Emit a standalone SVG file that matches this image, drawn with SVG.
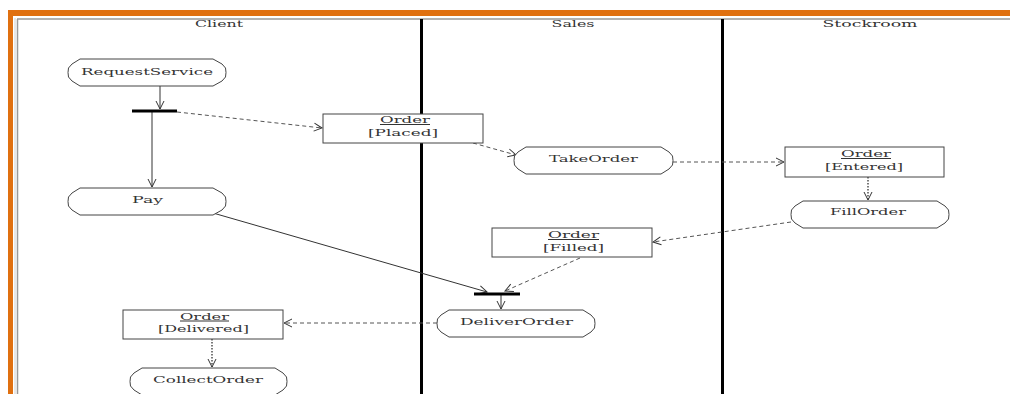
<svg xmlns="http://www.w3.org/2000/svg" width="1010" height="394" viewBox="0 0 1010 394">
<style>
  text { font-family: "DejaVu Serif", "Liberation Serif", serif; font-size: 10px; fill: #333; text-anchor: middle; }
  .act { fill: #ffffff; stroke: #444; stroke-width: 1; }
  .obj { fill: #ffffff; stroke: #444; stroke-width: 1; }
  .bar { stroke: #000; stroke-width: 3; }
  .lane { stroke: #000; stroke-width: 3; }
  .solid { fill: none; stroke: #333; stroke-width: 1; marker-end: url(#arr); }
  .dash { fill: none; stroke: #555; stroke-width: 1; stroke-dasharray: 4 3; marker-end: url(#arr); }
  .dot { fill: none; stroke: #333; stroke-width: 1.3; stroke-dasharray: 1.5 1.5; marker-end: url(#arr); }
  .ul { stroke: #333; stroke-width: 1; }
</style>
<defs>
  <marker id="arr" markerUnits="userSpaceOnUse" markerWidth="12" markerHeight="12" viewBox="-10 -6 12 12" refX="0" refY="0" orient="auto">
    <path d="M-8,-4 L0,0 L-8,4" fill="none" stroke="#333" stroke-width="1"/>
  </marker>
</defs>
<rect x="0" y="0" width="1010" height="394" fill="#ffffff"/>
<g id="frame">
  <rect x="8" y="10" width="1002" height="6" fill="#e07010"/>
  <rect x="8" y="10" width="5" height="384" fill="#e07010"/>
  <line x1="15" y1="18" x2="15" y2="394" stroke="#d0d0d0" stroke-width="1"/>
  <line x1="17.5" y1="19" x2="17.5" y2="394" stroke="#999" stroke-width="1.5"/>
  <line x1="17" y1="19" x2="1010" y2="19" stroke="#999" stroke-width="1.5"/>
</g>
<g id="lanes">
  <line class="lane" x1="421.5" y1="19" x2="421.5" y2="394"/>
  <line class="lane" x1="722.5" y1="19" x2="722.5" y2="394"/>
  <text x="219" y="27" textLength="48" lengthAdjust="spacingAndGlyphs">Client</text>
  <text x="573" y="27" textLength="43" lengthAdjust="spacingAndGlyphs">Sales</text>
  <text x="870" y="27" textLength="95" lengthAdjust="spacingAndGlyphs">Stockroom</text>
</g>
<g id="connectors">
  <path class="solid" d="M160,86 L160,109"/>
  <path class="solid" d="M152,112 L152,187"/>
  <path class="dash" d="M177,112 L322,128"/>
  <path class="dash" d="M473,143 L516,155"/>
  <path class="dash" d="M673,162 L784,162"/>
  <path class="dot" d="M868,177 L868,200"/>
  <path class="dash" d="M791,222 L653,242"/>
  <path class="dash" d="M580,258 L505,291"/>
  <path class="solid" d="M213,213 L487,292"/>
  <path class="solid" d="M501,295 L501,309"/>
  <path class="dash" d="M437,323 L284,323"/>
  <path class="dot" d="M212,339 L212,367"/>
</g>
<g id="RequestService">
  <polygon class="act" points="80,59 213,59 222,64 225.5,68 226,72.5 225.5,77 222,81 213,86 80,86 72,81 68.5,77 68,72.5 68.5,68 72,64"/>
  <text x="147" y="75" textLength="132" lengthAdjust="spacingAndGlyphs">RequestService</text>
</g>
<g id="fork">
  <line class="bar" x1="132" y1="111" x2="177" y2="111"/>
</g>
<g id="Pay">
  <polygon class="act" points="80,188 213,188 222,193 225.5,197 226,201.5 225.5,206 222,210 213,215 80,215 72,210 68.5,206 68,201.5 68.5,197 72,193"/>
  <text x="147.5" y="203" textLength="31" lengthAdjust="spacingAndGlyphs">Pay</text>
</g>
<g id="OrderPlaced">
  <rect class="obj" x="323" y="114" width="160" height="29"/>
  <text x="405" y="123" textLength="50" lengthAdjust="spacingAndGlyphs">Order</text>
  <line class="ul" x1="380" y1="124.5" x2="430" y2="124.5"/>
  <text x="403" y="136" textLength="70" lengthAdjust="spacingAndGlyphs">[Placed]</text>
</g>
<g id="TakeOrder">
  <polygon class="act" points="526,147 661,147 669,152 672.5,156 673,160.5 672.5,165 669,169 661,174 526,174 518,169 514.5,165 514,160.5 514.5,156 518,152"/>
  <text x="593.5" y="162" textLength="89" lengthAdjust="spacingAndGlyphs">TakeOrder</text>
</g>
<g id="OrderEntered">
  <rect class="obj" x="785" y="147" width="159" height="30"/>
  <text x="866" y="157" textLength="50" lengthAdjust="spacingAndGlyphs">Order</text>
  <line class="ul" x1="841" y1="158.5" x2="891" y2="158.5"/>
  <text x="864" y="169.5" textLength="78" lengthAdjust="spacingAndGlyphs">[Entered]</text>
</g>
<g id="FillOrder">
  <polygon class="act" points="803,201 937,201 945,206 948.5,210 949,214.5 948.5,219 945,223 937,228 803,228 795,223 791.5,219 791,214.5 791.5,210 795,206"/>
  <text x="868" y="215" textLength="76" lengthAdjust="spacingAndGlyphs">FillOrder</text>
</g>
<g id="OrderFilled">
  <rect class="obj" x="492" y="228" width="160" height="29"/>
  <text x="573.5" y="238" textLength="51" lengthAdjust="spacingAndGlyphs">Order</text>
  <line class="ul" x1="548" y1="239.5" x2="599" y2="239.5"/>
  <text x="573.5" y="250.5" textLength="61" lengthAdjust="spacingAndGlyphs">[Filled]</text>
</g>
<g id="join">
  <line class="bar" x1="474" y1="294" x2="520" y2="294"/>
</g>
<g id="DeliverOrder">
  <polygon class="act" points="449,310 583,310 591,315 594.5,319 595,323.5 594.5,328 591,332 583,337 449,337 441,332 437.5,328 437,323.5 437.5,319 441,315"/>
  <text x="516.5" y="325" textLength="113" lengthAdjust="spacingAndGlyphs">DeliverOrder</text>
</g>
<g id="OrderDelivered">
  <rect class="obj" x="123" y="310" width="160" height="29"/>
  <text x="204.5" y="319.5" textLength="49" lengthAdjust="spacingAndGlyphs">Order</text>
  <line class="ul" x1="180" y1="321" x2="229" y2="321"/>
  <text x="203.5" y="332" textLength="91" lengthAdjust="spacingAndGlyphs">[Delivered]</text>
</g>
<g id="CollectOrder">
  <polygon class="act" points="142,368 275,368 283,373 286.5,377 287,381.5 286.5,386 283,390 275,395 142,395 134,390 130.5,386 130,381.5 130.5,377 134,373"/>
  <text x="208" y="383" textLength="110" lengthAdjust="spacingAndGlyphs">CollectOrder</text>
</g>
</svg>
